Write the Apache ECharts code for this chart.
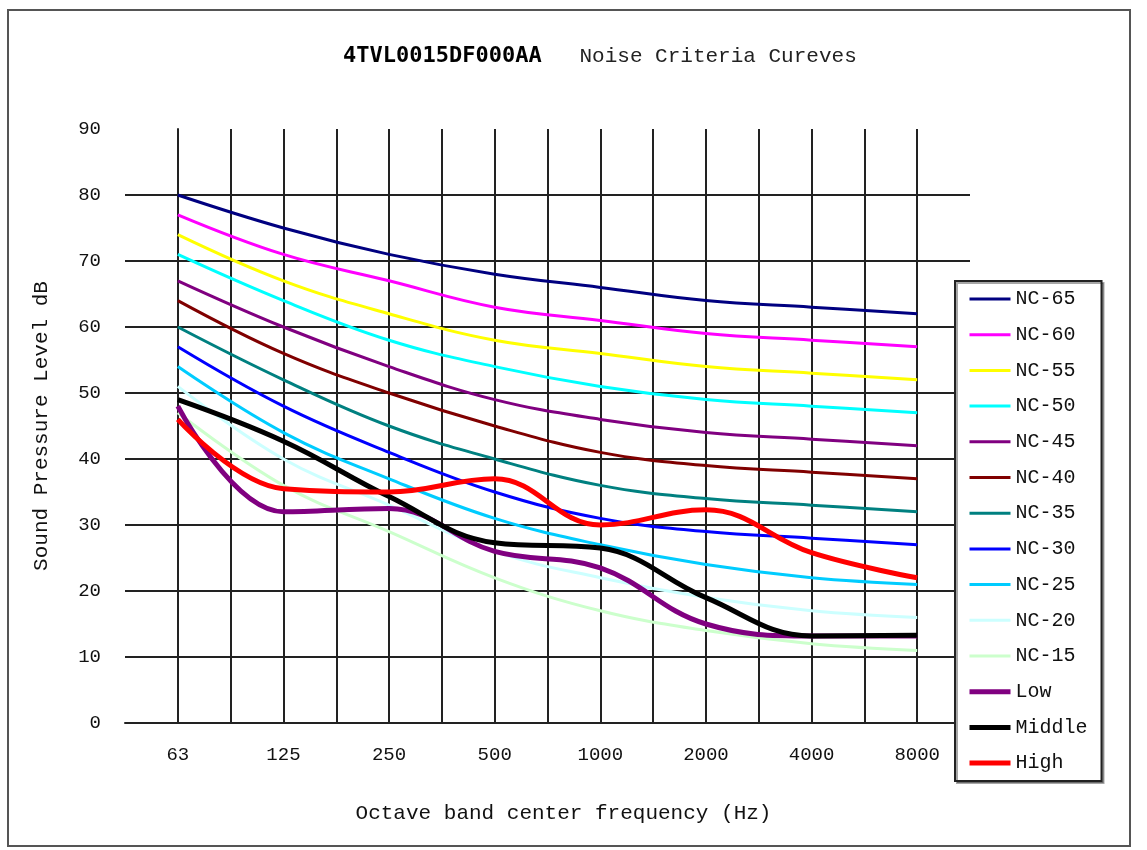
<!DOCTYPE html>
<html>
<head>
<meta charset="utf-8">
<script src="https://cdn.jsdelivr.net/npm/echarts@6/dist/echarts.min.js"></script>
<style>
  html, body { margin: 0; padding: 0; background: #fff; }
  #chart { width: 1147px; height: 850px; }
</style>
</head>
<body>
<div id="chart"></div>
<script>
// octave band centres (Hz)
var freqLabels = ['63', '125', '250', '500', '1000', '2000', '4000', '8000'];

// NC reference curves
var nc65 = [80, 75, 71, 68, 66, 64, 63, 62];
var nc60 = [77, 71, 67, 63, 61, 59, 58, 57];
var nc55 = [74, 67, 62, 58, 56, 54, 53, 52];
var nc50 = [71, 64, 58, 54, 51, 49, 48, 47];
var nc45 = [67, 60, 54, 49, 46, 44, 43, 42];
var nc40 = [64, 56, 50, 45, 41, 39, 38, 37];
var nc35 = [60, 52, 45, 40, 36, 34, 33, 32];
var nc30 = [57, 48, 41, 35, 31, 29, 28, 27];
var nc25 = [54, 44, 37, 31, 27, 24, 22, 21];
var nc20 = [51, 40, 33, 26, 22, 19, 17, 16];
var nc15 = [47, 36, 29, 22, 17, 14, 12, 11];

// measured unit curves
var lowSpeed = [48, 32, 32.5, 26, 23.5, 15, 13.2, 13.2];
var middleSpeed = [49, 42.7, 34.3, 27.3, 26.5, 19, 13.2, 13.3];
var highSpeed = [46, 35.5, 35, 37, 30, 32.3, 25.8, 22];

var chartDom = document.getElementById('chart');
var myChart = echarts.init(chartDom);
var option;

var monoFont = '"Liberation Mono", "DejaVu Sans Mono", monospace';

// build one line series from an array of values
function makeSeries(name, values, color, width) {
    return {
        name: name,
        type: 'line',
        symbol: 'none',
        smooth: 0.4,
        lineStyle: { color: color, width: width },
        itemStyle: { color: color },
        data: values.map(function (v, i) { return [i, v]; })
    };
}

var seriesData = [
    makeSeries('NC-65', nc65, '#000080', 3),
    makeSeries('NC-60', nc60, '#ff00ff', 3),
    makeSeries('NC-55', nc55, '#ffff00', 3),
    makeSeries('NC-50', nc50, '#00ffff', 3),
    makeSeries('NC-45', nc45, '#800080', 3),
    makeSeries('NC-40', nc40, '#800000', 3),
    makeSeries('NC-35', nc35, '#008080', 3),
    makeSeries('NC-30', nc30, '#0000ff', 3),
    makeSeries('NC-25', nc25, '#00ccff', 3),
    makeSeries('NC-20', nc20, '#ccffff', 3),
    makeSeries('NC-15', nc15, '#ccffcc', 3),
    makeSeries('Low', lowSpeed, '#800080', 5),
    makeSeries('Middle', middleSpeed, '#000000', 5),
    makeSeries('High', highSpeed, '#ff0000', 5)
];

option = {
    backgroundColor: '#fff',
    animation: false,
    title: {
        left: 338,
        top: 40,
        text: '{a|4TVL0015DF000AA}{b|   Noise Criteria Cureves}',
        textStyle: {
            fontWeight: 'normal',
            rich: {
                a: { fontFamily: '"DejaVu Sans Mono", monospace', fontWeight: 'bold', fontSize: 22, color: '#000' },
                b: { fontFamily: monoFont, fontWeight: 'normal', fontSize: 21, color: '#222' }
            }
        }
    },
    graphic: [{
        type: 'rect',
        shape: { x: 8, y: 10, width: 1122, height: 836 },
        style: { fill: 'none', stroke: '#555', lineWidth: 2 },
        silent: true
    }],
    grid: {
        left: 125,
        right: 177,
        top: 129,
        bottom: 127
    },
    legend: {
        orient: 'vertical',
        left: 955,
        top: 281,
        padding: [8, 14, 8, 12],
        itemWidth: 41,
        itemHeight: 14,
        itemGap: 15.7,
        backgroundColor: '#fff',
        borderColor: '#222',
        borderWidth: 2,
        shadowColor: 'rgba(0,0,0,0.35)',
        shadowOffsetX: 2,
        shadowOffsetY: 2,
        itemStyle: { opacity: 0 },
        textStyle: { fontFamily: monoFont, fontSize: 20, color: '#111' },
        data: seriesData.map(function (s) {
            return { name: s.name, lineStyle: { width: s.lineStyle.width } };
        })
    },
    xAxis: {
        type: 'value',
        min: -0.5,
        max: 7.5,
        interval: 0.5,
        name: 'Octave band center frequency (Hz)',
        nameLocation: 'middle',
        nameGap: 80,
        nameTextStyle: { fontFamily: monoFont, fontSize: 21, color: '#111', padding: [0, 0, 0, 32] },
        axisLine: { show: true, lineStyle: { color: '#222', width: 2 } },
        axisTick: { show: false },
        axisLabel: {
            margin: 22,
            fontFamily: monoFont,
            fontSize: 19,
            color: '#111',
            formatter: function (value) {
                return Number.isInteger(value) ? freqLabels[value] : '';
            }
        },
        splitLine: {
            show: true,
            showMinLine: false,
            showMaxLine: false,
            lineStyle: { color: '#222', width: 2 }
        }
    },
    yAxis: {
        type: 'value',
        min: 0,
        max: 90,
        interval: 10,
        name: 'Sound Pressure Level dB',
        nameLocation: 'middle',
        nameGap: 73,
        nameRotate: 90,
        nameTextStyle: { fontFamily: monoFont, fontSize: 21, color: '#111' },
        axisLine: { show: true, lineStyle: { color: '#222', width: 2 } },
        axisTick: { show: false },
        axisLabel: { margin: 24, fontFamily: monoFont, fontSize: 19, color: '#111' },
        splitLine: {
            show: true,
            showMinLine: false,
            showMaxLine: false,
            lineStyle: { color: '#222', width: 2 }
        }
    },
    series: seriesData
};

myChart.setOption(option);
</script>
</body>
</html>
